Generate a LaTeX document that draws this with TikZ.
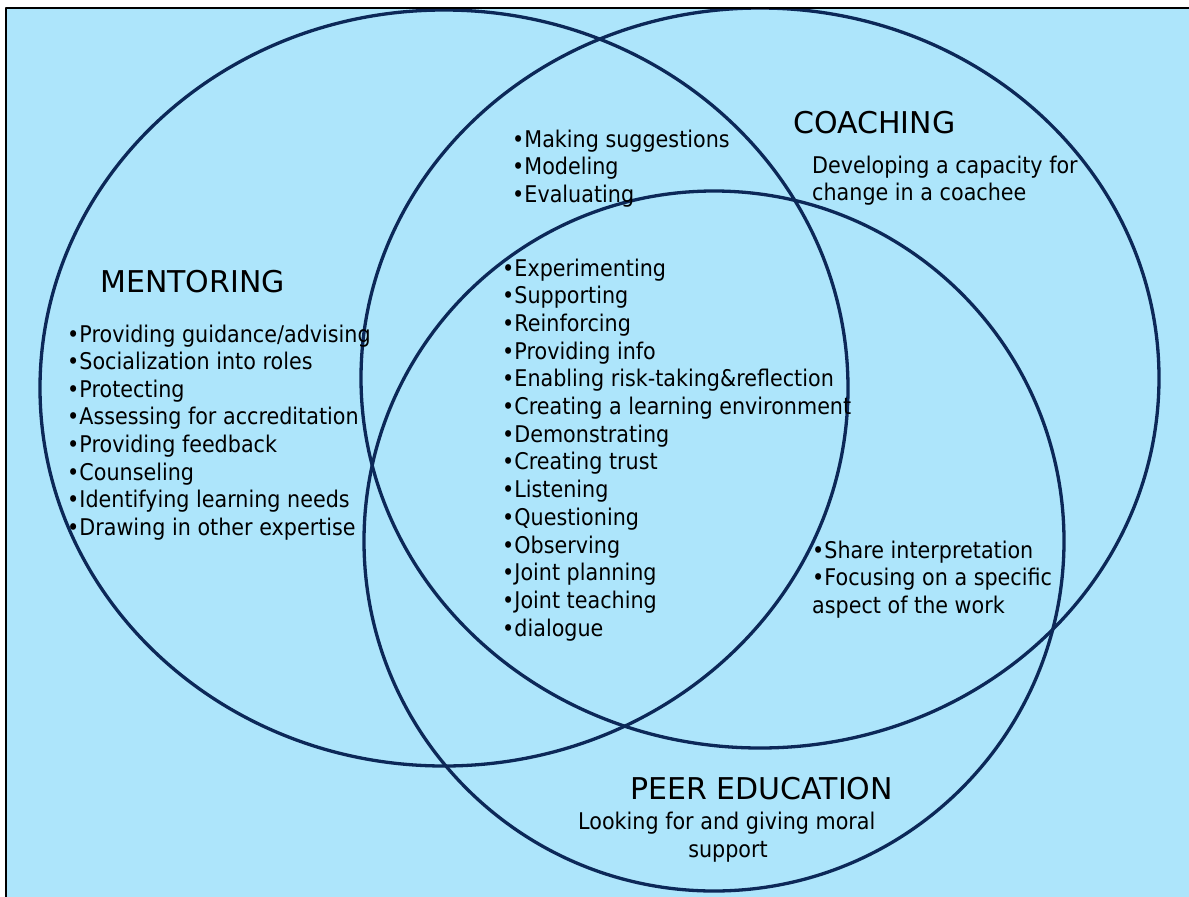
\documentclass[tikz,border=0pt]{standalone}
\usepackage{fontspec}
\setmainfont{DejaVu Sans}
\newfontfamily\itemfont{DejaVu Sans}[FakeStretch=0.9]
\definecolor{panel}{RGB}{173,229,251}
\definecolor{ring}{RGB}{12,40,88}

\begin{document}
\begin{tikzpicture}[x=1pt,y=-1pt,line cap=round,line join=round,
   ring/.style={draw=ring,line width=3.3pt},
   head/.style={anchor=base west,inner sep=0pt,font=\fontsize{30}{36}\selectfont},
   item/.style={anchor=base west,inner sep=0pt,font=\itemfont\fontsize{23}{27.7}\selectfont}]
\useasboundingbox (0,0) rectangle (1189,897);
\def\gap{27.7} % line pitch of the lists
% panel, dark edge on top and left only
\fill[panel] (6,8) rectangle (1189,897);
\draw[line width=2.5pt,line cap=butt] (6,897) -- (6,8) -- (1189,8);
% the three sets, cut at the panel edge
\begin{scope}
  \clip (7,9) rectangle (1189,897);
  \draw[ring] (444,388) ellipse [x radius=404pt,y radius=378pt]; % mentoring
  \draw[ring] (760,378) ellipse [x radius=399pt,y radius=370pt]; % coaching
  \draw[ring] (714,541) circle [radius=350pt];                   % peer education
\end{scope}
% mentoring
\node[head] (mentoring) at (100,292) {MENTORING};
\foreach\t [count=\i] in {Providing guidance/advising,Socialization into roles,
   Protecting,Assessing for accreditation,Providing feedback,Counseling,
   Identifying learning needs,Drawing in other expertise}
{%
  \node[item] (ment-\i) at (67,{342+(\i-1)*27.6}) {\textbullet\t};
}
% mentoring and coaching
\foreach\t [count=\i] in {Making suggestions,Modeling,Evaluating}
{%
  \node[item] (mc-\i) at (512,{147+(\i-1)*27.5}) {\textbullet\t};
}
% coaching
\node[head] (coaching) at (793,133) {COACHING};
\node[item] (coach-1) at (812,173) {Developing a capacity for};
\node[item] (coach-2) at (812,200) {change in a coachee};
% shared by all three
\foreach\t [count=\i] in {Experimenting,Supporting,Reinforcing,Providing info,
   Enabling risk-taking\&reflection,Creating a learning environment,
   Demonstrating,Creating trust,Listening,Questioning,Observing,
   Joint planning,Joint teaching,dialogue}
{%
  \node[item] (all-\i) at (502,{276+(\i-1)*\gap}) {\textbullet\t};
}
% coaching and peer education
\node[item] (cp-1) at (812,558) {\textbullet Share interpretation};
\node[item] (cp-2) at (812,585) {\textbullet Focusing on a specific};
\node[item] (cp-3) at (812,613) {aspect of the work};
% peer education
\node[head] (peer) at (630,799) {PEER EDUCATION};
\node[item] (peer-1) at (578,829) {Looking for and giving moral};
\node[item,anchor=base] (peer-2) at (728,857) {support};
\end{tikzpicture}
\end{document}
